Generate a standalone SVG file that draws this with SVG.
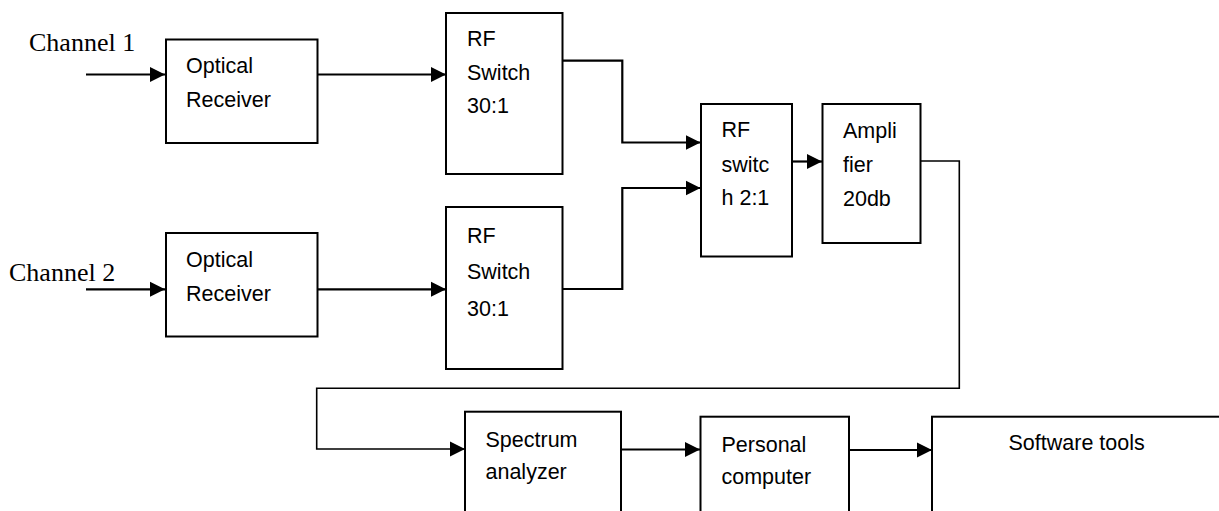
<svg xmlns="http://www.w3.org/2000/svg" width="1219" height="511" viewBox="0 0 1219 511">
<style>
.box{fill:#fff;stroke:#000;stroke-width:2}
.t{font-family:"Liberation Sans",Arial,sans-serif;font-size:21.5px;fill:#000}
.ch{font-family:"Liberation Serif","Times New Roman",serif;font-size:26px;fill:#000}
.c{fill:none;stroke:#000;stroke-width:2.2}
.thin{fill:none;stroke:#000;stroke-width:1.6}
</style>
<defs>
<marker id="ah" markerUnits="userSpaceOnUse" markerWidth="16" markerHeight="16" viewBox="0 0 16 16" refX="15" refY="8" orient="auto">
<path d="M0,0.5 L15,8 L0,15.5 Z" fill="#000"/>
</marker>
</defs>
<rect width="1219" height="511" fill="#fff"/>
<text class="ch" x="29" y="51">Channel 1</text>
<text class="ch" x="9" y="281">Channel 2</text>
<g id="connectors">
<path class="c" d="M86,74.5 H165" marker-end="url(#ah)"/>
<path class="c" d="M318,74.5 H446" marker-end="url(#ah)"/>
<path class="c" d="M86,289.3 H165" marker-end="url(#ah)"/>
<path class="c" d="M318,289.3 H446" marker-end="url(#ah)"/>
<path class="c" d="M563,60.7 H622.3 V142.5 H700.5" marker-end="url(#ah)"/>
<path class="c" d="M563,289 H622.3 V188 H700.5" marker-end="url(#ah)"/>
<path class="c" d="M792,161.5 H822" marker-end="url(#ah)"/>
<path class="thin" d="M921,161 H959.3 V388.3 H316.7 V449 H465" marker-end="url(#ah)"/>
<path class="c" d="M621,449.5 H700" marker-end="url(#ah)"/>
<path class="c" d="M849,450 H932" marker-end="url(#ah)"/>
</g>
<g id="optical1">
<rect class="box" x="166" y="39.5" width="151.5" height="103.5"/>
<text class="t" x="186" y="73">Optical</text>
<text class="t" x="186" y="107">Receiver</text>
</g>
<g id="optical2">
<rect class="box" x="166" y="233" width="151.5" height="103.5"/>
<text class="t" x="186" y="267">Optical</text>
<text class="t" x="186" y="301">Receiver</text>
</g>
<g id="rfswitch1">
<rect class="box" x="446" y="13" width="116.5" height="161"/>
<text class="t" x="467" y="46">RF</text>
<text class="t" x="467" y="80">Switch</text>
<text class="t" x="467" y="113">30:1</text>
</g>
<g id="rfswitch2">
<rect class="box" x="446" y="207" width="116.5" height="162"/>
<text class="t" x="467" y="243">RF</text>
<text class="t" x="467" y="279">Switch</text>
<text class="t" x="467" y="316">30:1</text>
</g>
<g id="rfswitch21">
<rect class="box" x="701" y="104" width="91" height="152.5"/>
<text class="t" x="721.5" y="137">RF</text>
<text class="t" x="721.5" y="171.5">switc</text>
<text class="t" x="721.5" y="205">h 2:1</text>
</g>
<g id="amplifier">
<rect class="box" x="822.5" y="104" width="98" height="139"/>
<text class="t" x="843" y="138">Ampli</text>
<text class="t" x="843" y="172">fier</text>
<text class="t" x="843" y="205.5">20db</text>
</g>
<g id="spectrum">
<rect class="box" x="465" y="411.7" width="156" height="110"/>
<text class="t" x="485.5" y="447">Spectrum</text>
<text class="t" x="485.5" y="479">analyzer</text>
</g>
<g id="pc">
<rect class="box" x="700.5" y="416.7" width="148.5" height="110"/>
<text class="t" x="721.5" y="452">Personal</text>
<text class="t" x="721.5" y="484">computer</text>
</g>
<g id="software">
<rect class="box" x="932" y="416.7" width="300" height="110"/>
<text class="t" x="1008.5" y="450">Software tools</text>
</g>
</svg>
